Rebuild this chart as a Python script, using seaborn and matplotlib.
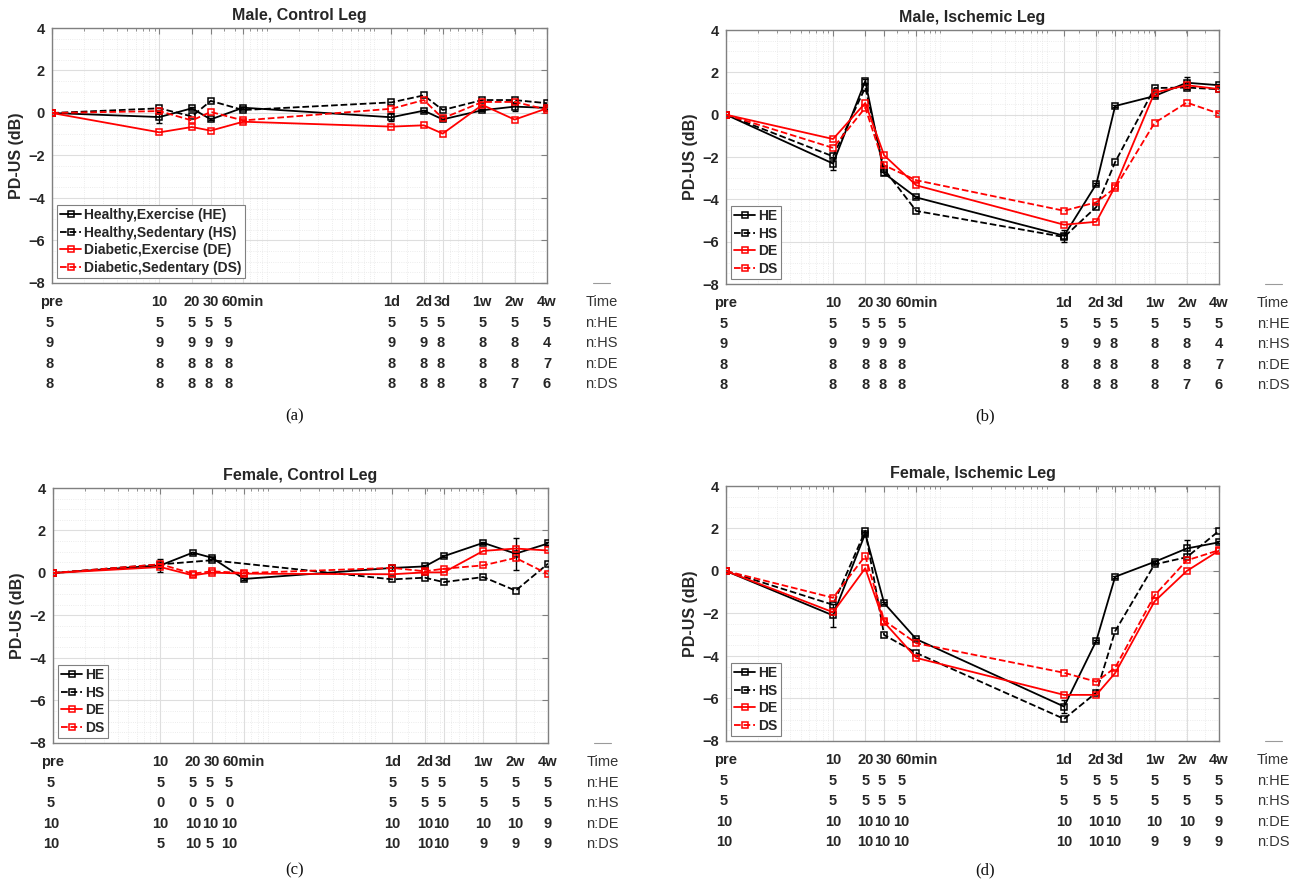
import numpy as np
import pandas as pd
import seaborn as sns
import matplotlib.pyplot as plt
import matplotlib.transforms as mtransforms
from matplotlib.ticker import FixedLocator, LogLocator, MultipleLocator, NullFormatter

sns.set_style("white")
plt.rcParams['font.family'] = ['Liberation Sans', 'DejaVu Sans']

# time points in minutes (pre plotted at 1 min on the log axis)
times = [1, 10, 20, 30, 60, 1440, 2880, 4320, 10080, 20160, 40320]
time_labels = ["pre", "10", "20", "30", "60min", "1d", "2d", "3d", "1w", "2w", "4w"]
groups = ["HE", "HS", "DE", "DS"]
long_names = ["Healthy,Exercise (HE)", "Healthy,Sedentary (HS)",
              "Diabetic,Exercise (DE)", "Diabetic,Sedentary (DS)"]

# (a) Male, control leg
a_he = [0, -0.19, 0.22, -0.30, 0.25, -0.20, 0.11, -0.30, 0.13, 0.30, 0.24]
a_hs = [0, 0.22, -0.16, 0.57, 0.14, 0.50, 0.83, 0.14, 0.61, 0.61, 0.46]
a_de = [0, -0.91, -0.66, -0.83, -0.41, -0.64, -0.58, -0.97, 0.38, -0.31, 0.22]
a_ds = [0, 0.09, -0.35, 0.05, -0.35, 0.20, 0.61, -0.25, 0.52, 0.52, 0.16]
a_he_err = [0, 0.26, 0.05, 0.05, 0.05, 0.20, 0.05, 0.05, 0.05, 0.20, 0.05]
a_n = [[5, 5, 5, 5, 5, 5, 5, 5, 5, 5, 5],
       [9, 9, 9, 9, 9, 9, 9, 8, 8, 8, 4],
       [8, 8, 8, 8, 8, 8, 8, 8, 8, 8, 7],
       [8, 8, 8, 8, 8, 8, 8, 8, 8, 7, 6]]

# (b) Male, ischemic leg
b_he = [0, -2.31, 1.59, -2.77, -3.91, -5.72, -3.28, 0.41, 0.88, 1.51, 1.39]
b_hs = [0, -1.97, 1.28, -2.58, -4.55, -5.78, -4.36, -2.24, 1.26, 1.28, 1.20]
b_de = [0, -1.15, 0.55, -1.92, -3.34, -5.20, -5.06, -3.39, 1.04, 1.39, 1.21]
b_ds = [0, -1.57, 0.33, -2.39, -3.10, -4.54, -4.14, -3.46, -0.39, 0.57, 0.05]
b_he_err = [0, 0.30, 0.08, 0.08, 0.05, 0.28, 0.05, 0.05, 0.05, 0.28, 0.05]
b_n = [[5, 5, 5, 5, 5, 5, 5, 5, 5, 5, 5],
       [9, 9, 9, 9, 9, 9, 9, 8, 8, 8, 4],
       [8, 8, 8, 8, 8, 8, 8, 8, 8, 8, 7],
       [8, 8, 8, 8, 8, 8, 8, 8, 8, 7, 6]]

# (c) Female, control leg (HS has no data at 10, 20, 60 min)
c_he = [0, 0.36, 0.96, 0.72, -0.28, 0.24, 0.31, 0.79, 1.42, 0.91, 1.39]
c_hs = [0, np.nan, np.nan, 0.60, np.nan, -0.30, -0.22, -0.43, -0.19, -0.83, 0.44]
c_de = [0, 0.28, -0.11, 0.02, -0.03, -0.06, 0.03, 0.03, 1.04, 1.15, 1.06]
c_ds = [0, 0.41, -0.03, 0.08, 0.00, 0.24, 0.08, 0.20, 0.36, 0.71, -0.05]
c_he_err = [0, 0.30, 0.05, 0.05, 0.05, 0.12, 0.05, 0.05, 0.05, 0.75, 0.05]
c_n = [[5, 5, 5, 5, 5, 5, 5, 5, 5, 5, 5],
       [5, 0, 0, 5, 0, 5, 5, 5, 5, 5, 5],
       [10, 10, 10, 10, 10, 10, 10, 10, 10, 10, 9],
       [10, 5, 10, 5, 10, 10, 10, 10, 9, 9, 9]]

# (d) Female, ischemic leg
d_he = [0, -2.09, 1.76, -1.51, -3.21, -6.38, -3.28, -0.27, 0.43, 1.06, 1.35]
d_hs = [0, -1.59, 1.89, -3.01, -3.86, -6.96, -5.72, -2.83, 0.31, 0.65, 1.89]
d_de = [0, -1.94, 0.13, -2.41, -4.09, -5.83, -5.83, -4.80, -1.43, 0.00, 0.96]
d_ds = [0, -1.26, 0.71, -2.33, -3.40, -4.79, -5.21, -4.55, -1.15, 0.50, 0.98]
d_he_err = [0, 0.55, 0.08, 0.05, 0.05, 0.30, 0.05, 0.05, 0.05, 0.40, 0.05]
d_n = [[5, 5, 5, 5, 5, 5, 5, 5, 5, 5, 5],
       [5, 5, 5, 5, 5, 5, 5, 5, 5, 5, 5],
       [10, 10, 10, 10, 10, 10, 10, 10, 10, 10, 9],
       [10, 10, 10, 10, 10, 10, 10, 10, 9, 9, 9]]

panels = [
    ("Male, Control Leg", [a_he, a_hs, a_de, a_ds], a_he_err, a_n, "(a)", True),
    ("Male, Ischemic Leg", [b_he, b_hs, b_de, b_ds], b_he_err, b_n, "(b)", False),
    ("Female, Control Leg", [c_he, c_hs, c_de, c_ds], c_he_err, c_n, "(c)", False),
    ("Female, Ischemic Leg", [d_he, d_hs, d_de, d_ds], d_he_err, d_n, "(d)", False),
]

W, H = 1305, 888
# axes boxes in pixels: left, top, right, bottom
boxes = [(52, 28, 547, 283), (726, 30, 1219, 284),
         (53, 488, 548, 743), (726, 486, 1219, 741)]
captions_xy = [(295, 416), (985, 416), (295, 870), (985, 870)]

colors = ['black', 'black', 'red', 'red']
styles = ['-', '--', '-', '--']
row_px = [19, 39.7, 60, 80.5, 101]
n_dx_px = [-2, 0, 0, -2, -15, 0, 0, -2, 0, 0, 0]
txt_col = '#262626'

fig = plt.figure(figsize=(W / 100, H / 100), dpi=100)

for (title, series, he_err, ncounts, cap, long_legend), (l, t, r, b), (cx, cy) in zip(panels, boxes, captions_xy):
    ax = fig.add_axes([l / W, 1 - b / H, (r - l) / W, (b - t) / H])
    ax.set_xscale('log')

    for k, (g, vals) in enumerate(zip(groups, series)):
        df = pd.DataFrame({'time': times, 'val': vals}).dropna()
        sns.lineplot(data=df, x='time', y='val', ax=ax, color=colors[k],
                     linestyle=styles[k], linewidth=1.3, marker='s', markersize=4,
                     markerfacecolor='none', markeredgecolor=colors[k],
                     markeredgewidth=1.1, errorbar=None,
                     label=long_names[k] if long_legend else g, zorder=3 + k)
        if k == 0:
            ax.errorbar(times, vals, yerr=he_err, fmt='none', ecolor='black',
                        elinewidth=1, capsize=2, zorder=3)

    ax.set_xlim(1, 40320)
    ax.set_ylim(-8, 4)
    ax.xaxis.set_major_locator(FixedLocator(times))
    ax.xaxis.set_minor_locator(LogLocator(base=10, subs=np.arange(1, 10)))
    ax.xaxis.set_major_formatter(NullFormatter())
    ax.xaxis.set_minor_formatter(NullFormatter())
    ax.yaxis.set_major_locator(MultipleLocator(2))
    ax.yaxis.set_minor_locator(MultipleLocator(0.5))

    ax.grid(which='major', color='#dedede', linewidth=0.8, linestyle='-')
    ax.grid(which='minor', color='#e6e6e6', linewidth=0.6, linestyle=':')
    ax.set_axisbelow(True)
    for s in ax.spines.values():
        s.set_color('#808080')
        s.set_linewidth(1)

    ax.tick_params(which='both', direction='in', top=True, right=True,
                   colors='#808080', labelcolor=txt_col)
    ax.tick_params(which='major', length=4)
    ax.tick_params(axis='x', which='minor', length=2)
    ax.tick_params(axis='y', which='minor', length=0)
    ax.tick_params(axis='y', labelsize=10.5, pad=5)
    for lab in ax.get_yticklabels():
        lab.set_fontweight('bold')

    ax.set_xlabel('')
    ax.set_ylabel('PD-US (dB)', fontsize=11.5, fontweight='bold', color=txt_col, labelpad=3)
    ax.set_title(title, fontsize=11.5, fontweight='bold', color=txt_col, pad=6)

    leg = ax.legend(loc='lower left', fontsize=10, prop={'weight': 'bold', 'size': 10},
                    handlelength=1.5, handletextpad=0.2, borderpad=0.25,
                    labelspacing=0.25, borderaxespad=0.35, fancybox=False,
                    framealpha=1, edgecolor='#808080')
    leg.get_frame().set_linewidth(0.8)

    # time labels and n counts under the axis
    xtr = ax.get_xaxis_transform()
    for i, (tm, tl) in enumerate(zip(times, time_labels)):
        tr = mtransforms.offset_copy(xtr, fig=fig, x=0, y=-row_px[0] * 0.72, units='points')
        ax.text(tm, 0, tl, transform=tr, ha='center', va='center', fontsize=10.5,
                fontweight='bold', color=txt_col, clip_on=False)
        for j in range(4):
            tr = mtransforms.offset_copy(xtr, fig=fig, x=n_dx_px[i] * 0.72,
                                         y=-row_px[j + 1] * 0.72, units='points')
            ax.text(tm, 0, str(ncounts[j][i]), transform=tr, ha='center', va='center',
                    fontsize=10.5, fontweight='bold', color=txt_col, clip_on=False)

    side = ["Time"] + ["n:" + g for g in groups]
    for j, s in enumerate(side):
        tr = mtransforms.offset_copy(ax.transAxes, fig=fig, x=0, y=-row_px[j] * 0.72, units='points')
        ax.text(1.11, 0, s, transform=tr, ha='center', va='center', fontsize=10.5,
                color='#333333', clip_on=False)
    ax.plot([1.093, 1.128], [0, 0], transform=ax.transAxes, clip_on=False,
            color='#9a9a9a', linewidth=0.8)

    fig.text(cx / W, 1 - cy / H, cap, ha='center', va='center', fontsize=12,
             family=['Liberation Serif', 'DejaVu Serif'], color='#111111')

fig.savefig('out.png', dpi=100)
